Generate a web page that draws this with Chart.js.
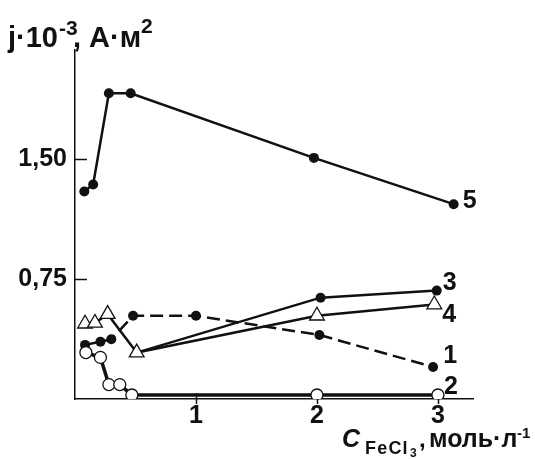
<!DOCTYPE html>
<html>
<head>
<meta charset="utf-8">
<script src="https://cdn.jsdelivr.net/npm/chart.js@4/dist/chart.umd.min.js"></script>
<style>
  html, body { margin:0; padding:0; background:#fff; }
  #wrap { position:relative; width:535px; height:459px; overflow:hidden; }
  #c { position:absolute; left:0; top:0; }
  .t { position:absolute; white-space:nowrap; line-height:1; color:#111;
       font-family:'Liberation Sans', Arial, sans-serif; font-weight:bold; }
</style>
</head>
<body>
<div id="wrap">
  <canvas id="c" width="535" height="459"></canvas>
</div>
<script>
// ---- data ----
const xTickValues = [1, 2, 3];
const xTickLabels = ['1', '2', '3'];
const yTickValues = [0.75, 1.5];
const yTickLabels = ['0,75', '1,50'];
const seriesNames = ['1', '2', '3', '4', '5'];

const s1x = [0.083, 0.21, 0.30, 0.48, 1.00, 2.02, 2.96];
const s1y = [0.338, 0.358, 0.373, 0.52, 0.52, 0.40, 0.20];

const s2x = [0.09, 0.21, 0.28, 0.37, 0.47, 2.00, 3.00];
const s2y = [0.29, 0.26, 0.09, 0.09, 0.025, 0.025, 0.025];

const s3x = [0.51, 2.03, 2.99];
const s3y = [0.29, 0.633, 0.677];

const s4x = [0.083, 0.165, 0.27, 0.51, 2.00, 2.97];
const s4y = [0.47, 0.475, 0.53, 0.29, 0.52, 0.59];

const s5x = [0.077, 0.15, 0.28, 0.46, 1.975, 3.13];
const s5y = [1.296, 1.34, 1.91, 1.91, 1.506, 1.217];

// ---- helpers ----
const pts = (xs, ys) => xs.map((v, i) => ({ x: v, y: ys[i] }));
const FONT = "'Liberation Sans', Arial, sans-serif";
const INK = '#111';

const labelOffsets = { '1': [17, -11], '2': [13, -8], '3': [13, -8], '4': [15, 11], '5': [16, -3] };

const tickPlugin = {
  id: 'innerTicks',
  beforeDatasetsDraw(chart) {
    const { ctx, scales: { x, y }, chartArea } = chart;
    ctx.save();
    ctx.strokeStyle = INK;
    ctx.lineWidth = 1.5;
    xTickValues.forEach(v => {
      const px = Math.round(x.getPixelForValue(v)) + 0.5;
      ctx.beginPath();
      ctx.moveTo(px, chartArea.bottom - 6);
      ctx.lineTo(px, chartArea.bottom + 5);
      ctx.stroke();
    });
    yTickValues.forEach(v => {
      const py = Math.round(y.getPixelForValue(v)) + 0.5;
      ctx.beginPath();
      ctx.moveTo(chartArea.left, py);
      ctx.lineTo(chartArea.left + 12, py);
      ctx.stroke();
    });
    ctx.restore();
  },
  afterDatasetsDraw(chart) {
    const { ctx } = chart;
    ctx.save();
    // series labels near the last point of each series
    ctx.fillStyle = INK;
    ctx.font = 'bold 25px ' + FONT;
    ctx.textAlign = 'center';
    ctx.textBaseline = 'middle';
    chart.data.datasets.forEach((ds, i) => {
      const meta = chart.getDatasetMeta(i);
      const last = meta.data[meta.data.length - 1];
      const off = labelOffsets[ds.label];
      ctx.fillText(ds.label, last.x + off[0], last.y + off[1]);
    });
    ctx.restore();
  }
};

const filled = { pointStyle: 'circle', pointRadius: 5, pointBackgroundColor: INK, pointBorderColor: INK, pointBorderWidth: 0 };

new Chart(document.getElementById('c'), {
  type: 'line',
  data: {
    datasets: [
      { label: seriesNames[3], data: pts(s4x, s4y), borderColor: INK, borderWidth: 2.5,
        pointStyle: 'triangle', pointRadius: 8.5, pointBackgroundColor: '#fff', pointBorderColor: INK, pointBorderWidth: 1.3 },
      { label: seriesNames[1], data: pts(s2x, s2y), borderColor: INK, borderWidth: 3.5,
        pointStyle: 'circle', pointRadius: 6, pointBackgroundColor: '#fff', pointBorderColor: INK, pointBorderWidth: 1.3 },
      Object.assign({ label: seriesNames[0], data: pts(s1x, s1y), borderColor: INK, borderWidth: 2.5, borderDash: [13, 6] }, filled),
      Object.assign({ label: seriesNames[2], data: pts(s3x, s3y), borderColor: INK, borderWidth: 2.5 }, filled, { pointRadius: [0, 5, 5] }),
      Object.assign({ label: seriesNames[4], data: pts(s5x, s5y), borderColor: INK, borderWidth: 2.5 }, filled)
    ]
  },
  options: {
    responsive: false,
    animation: false,
    devicePixelRatio: 1,
    layout: { padding: { left: 0, top: 50, right: 62, bottom: 0 } },
    elements: { line: { tension: 0 } },
    plugins: { legend: { display: false }, tooltip: { enabled: false } },
    scales: {
      x: {
        type: 'linear', min: 0, max: 3.29,
        grid: { display: false, drawTicks: false },
        border: { display: true, color: INK, width: 1.5 },
        afterBuildTicks: s => { s.ticks = xTickValues.map(v => ({ value: v })); },
        afterFit: s => { s.height = 60; },
        ticks: { color: INK, padding: 2, maxRotation: 0, autoSkip: false,
                 font: { family: FONT, size: 25, weight: 'bold', lineHeight: 1.2 },
                 callback: v => xTickLabels[xTickValues.indexOf(v)] }
      },
      y: {
        type: 'linear', min: 0, max: 2.18,
        grid: { display: false, drawTicks: false },
        border: { display: true, color: INK, width: 1.5 },
        afterBuildTicks: s => { s.ticks = yTickValues.map(v => ({ value: v })); },
        afterFit: s => { s.width = 75; },
        ticks: { color: INK, padding: 8, autoSkip: false,
                 font: { family: FONT, size: 25, weight: 'bold' },
                 callback: v => yTickLabels[yTickValues.indexOf(v)] }
      }
    }
  },
  plugins: [tickPlugin]
});

// ---- axis titles as text (baseline-positioned spans) ----
const wrap = document.getElementById('wrap');
function put(text, left, baseline, size, extra) {
  const s = document.createElement('span');
  s.className = 't';
  s.textContent = text;
  s.style.left = left + 'px';
  s.style.fontSize = size + 'px';
  s.style.top = (baseline - 0.8465 * size) + 'px';
  if (extra) Object.assign(s.style, extra);
  wrap.appendChild(s);
  return s;
}
// y-axis title: j·10^-3, А·м^2
put('j·10', 8, 48, 29);
put('-3', 59, 35, 21);
put(', А·м', 73, 48, 29);
put('2', 141, 33, 21);
// x-axis title: C_FeCl3, моль·л^-1
put('C', 342, 447, 25, { fontStyle: 'italic' });
put('FeCl', 365, 454, 18, { letterSpacing: '1.2px' });
put('3', 410, 457, 12);
put(',', 419, 447, 24);
put('моль·л', 429, 447, 25);
put('-1', 517, 438, 15);
</script>
</body>
</html>
